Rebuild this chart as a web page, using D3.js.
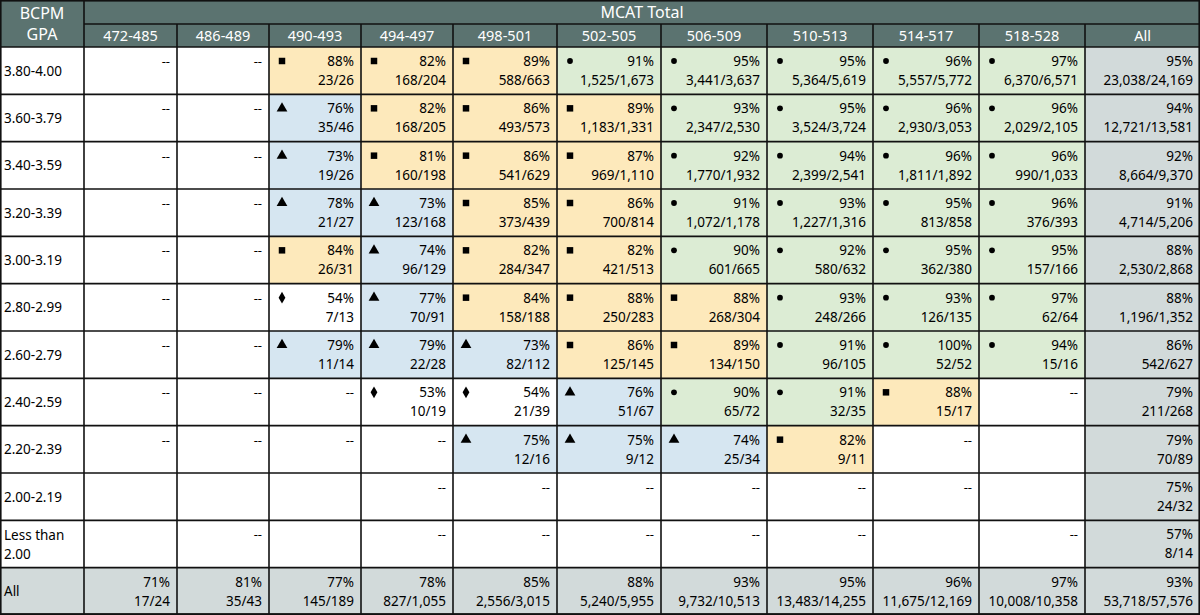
<!DOCTYPE html>
<html><head><meta charset="utf-8">
<script src="https://cdn.jsdelivr.net/npm/d3@7"></script>
<style>body{margin:0;background:#fff}svg{display:block;font-family:"Noto Sans",sans-serif}</style>
</head><body><svg id="c" width="1200" height="615"></svg>
<script>
const columns = ["472-485","486-489","490-493","494-497","498-501","502-505","506-509","510-513","514-517","518-528","All"];
const rowLabels = ["3.80-4.00","3.60-3.79","3.40-3.59","3.20-3.39","3.00-3.19","2.80-2.99","2.60-2.79","2.40-2.59","2.20-2.39","2.00-2.19","Less than\n2.00","All"];
// cell: null = blank, "--" = suppressed, [marker, pct, fraction]
const row380 = ["--","--",["s",88,"23/26"],["s",82,"168/204"],["s",89,"588/663"],["c",91,"1,525/1,673"],["c",95,"3,441/3,637"],["c",95,"5,364/5,619"],["c",96,"5,557/5,772"],["c",97,"6,370/6,571"],["",95,"23,038/24,169"]];
const row360 = ["--","--",["t",76,"35/46"],["s",82,"168/205"],["s",86,"493/573"],["s",89,"1,183/1,331"],["c",93,"2,347/2,530"],["c",95,"3,524/3,724"],["c",96,"2,930/3,053"],["c",96,"2,029/2,105"],["",94,"12,721/13,581"]];
const row340 = ["--","--",["t",73,"19/26"],["s",81,"160/198"],["s",86,"541/629"],["s",87,"969/1,110"],["c",92,"1,770/1,932"],["c",94,"2,399/2,541"],["c",96,"1,811/1,892"],["c",96,"990/1,033"],["",92,"8,664/9,370"]];
const row320 = ["--","--",["t",78,"21/27"],["t",73,"123/168"],["s",85,"373/439"],["s",86,"700/814"],["c",91,"1,072/1,178"],["c",93,"1,227/1,316"],["c",95,"813/858"],["c",96,"376/393"],["",91,"4,714/5,206"]];
const row300 = ["--","--",["s",84,"26/31"],["t",74,"96/129"],["s",82,"284/347"],["s",82,"421/513"],["c",90,"601/665"],["c",92,"580/632"],["c",95,"362/380"],["c",95,"157/166"],["",88,"2,530/2,868"]];
const row280 = ["--","--",["d",54,"7/13"],["t",77,"70/91"],["s",84,"158/188"],["s",88,"250/283"],["s",88,"268/304"],["c",93,"248/266"],["c",93,"126/135"],["c",97,"62/64"],["",88,"1,196/1,352"]];
const row260 = ["--","--",["t",79,"11/14"],["t",79,"22/28"],["t",73,"82/112"],["s",86,"125/145"],["s",89,"134/150"],["c",91,"96/105"],["c",100,"52/52"],["c",94,"15/16"],["",86,"542/627"]];
const row240 = ["--","--","--",["d",53,"10/19"],["d",54,"21/39"],["t",76,"51/67"],["c",90,"65/72"],["c",91,"32/35"],["s",88,"15/17"],"--",["",79,"211/268"]];
const row220 = ["--","--","--","--",["t",75,"12/16"],["t",75,"9/12"],["t",74,"25/34"],["s",82,"9/11"],"--",null,["",79,"70/89"]];
const row200 = [null,null,null,"--","--","--","--","--","--",null,["",75,"24/32"]];
const rowLt2 = [null,"--",null,"--","--","--","--","--",null,"--",["",57,"8/14"]];
const rowAll = [["",71,"17/24"],["",81,"35/43"],["",77,"145/189"],["",78,"827/1,055"],["",85,"2,556/3,015"],["",88,"5,240/5,955"],["",93,"9,732/10,513"],["",95,"13,483/14,255"],["",96,"11,675/12,169"],["",97,"10,008/10,358"],["",93,"53,718/57,576"]];
const rows = [row380,row360,row340,row320,row300,row280,row260,row240,row220,row200,rowLt2,rowAll];

const fills = {s:"#fde9bb", t:"#d6e6f1", c:"#dcecd4", d:"#ffffff", "":"#d2dada"};
const symType = {s:d3.symbolSquare, t:d3.symbolTriangle, c:d3.symbolCircle, d:d3.symbolDiamond};
const symSize = {s:42, t:50, c:26, d:40};
const headFill = "#5b7370";

const svg = d3.select("#c");
const colEdges = [84,177,269,361,453,557,661,767,873,979,1085,1200];
const x0 = 84, W = 1200;
const y = d3.scaleBand().domain(d3.range(rows.length)).range([47,615]);
const ci = i => [colEdges[i], colEdges[i+1]];

svg.append("rect").attr("x",0).attr("y",0).attr("width",W).attr("height",47).attr("fill",headFill);
svg.append("text").attr("x",(x0+W)/2).attr("y",18).attr("text-anchor","middle").attr("fill","#fff").attr("font-size",16).text("MCAT Total");
svg.append("text").attr("x",42).attr("y",19).attr("text-anchor","middle").attr("fill","#fff").attr("font-size",16).text("BCPM");
svg.append("text").attr("x",42).attr("y",40).attr("text-anchor","middle").attr("fill","#fff").attr("font-size",16).text("GPA");
columns.forEach((c,i)=>{
  const [a,b]=ci(i);
  svg.append("text").attr("x",(a+b)/2).attr("y",41).attr("text-anchor","middle").attr("fill","#fff").attr("font-size",14.5).text(c);
});

rows.forEach((r,ri)=>{
  const top=y(ri), h=y.bandwidth();
  const isAll = ri===rows.length-1;
  svg.append("rect").attr("x",0).attr("y",top).attr("width",x0).attr("height",h).attr("fill",isAll?fills[""]:"#fff");
  const lines = rowLabels[ri].split("\n");
  lines.forEach((l,li)=>svg.append("text").attr("x",4).attr("y",top+h/2+5+(li-(lines.length-1)/2)*19).attr("font-size",13.5).text(l));
  r.forEach((cell,i)=>{
    const [a,b]=ci(i);
    let f="#fff";
    if(Array.isArray(cell)) f = (i===10||isAll)?fills[""]:fills[cell[0]];
    svg.append("rect").attr("x",a).attr("y",top).attr("width",b-a).attr("height",h).attr("fill",f);
    if(cell==="--"){
      svg.append("text").attr("x",b-7).attr("y",top+19).attr("text-anchor","end").attr("font-size",13).text("--");
    } else if(Array.isArray(cell)){
      if(cell[0]) svg.append("path").attr("transform",`translate(${a+13},${top+14})`)
        .attr("d",d3.symbol().type(symType[cell[0]]).size(symSize[cell[0]])()).attr("fill","#000");
      svg.append("text").attr("x",b-7).attr("y",top+19).attr("text-anchor","end").attr("font-size",13.5).text(cell[1]+"%");
      svg.append("text").attr("x",b-7).attr("y",top+38).attr("text-anchor","end").attr("font-size",13.5).text(cell[2]);
    }
  });
});

const g = svg.append("g").attr("stroke","#111").attr("stroke-width",1.6);
g.append("line").attr("x1",x0).attr("x2",W).attr("y1",24).attr("y2",24);
colEdges.slice(1,-1).forEach(xx=>g.append("line").attr("x1",xx).attr("x2",xx).attr("y1",24).attr("y2",615));
g.append("line").attr("x1",x0).attr("x2",x0).attr("y1",0).attr("y2",615);
d3.range(rows.length+1).forEach(i=>{const yy=i<rows.length?y(i):614;g.append("line").attr("x1",0).attr("x2",W).attr("y1",yy).attr("y2",yy);});
g.append("rect").attr("x",0.8).attr("y",0.8).attr("width",W-1.6).attr("height",613.4).attr("fill","none");
</script></body></html>
